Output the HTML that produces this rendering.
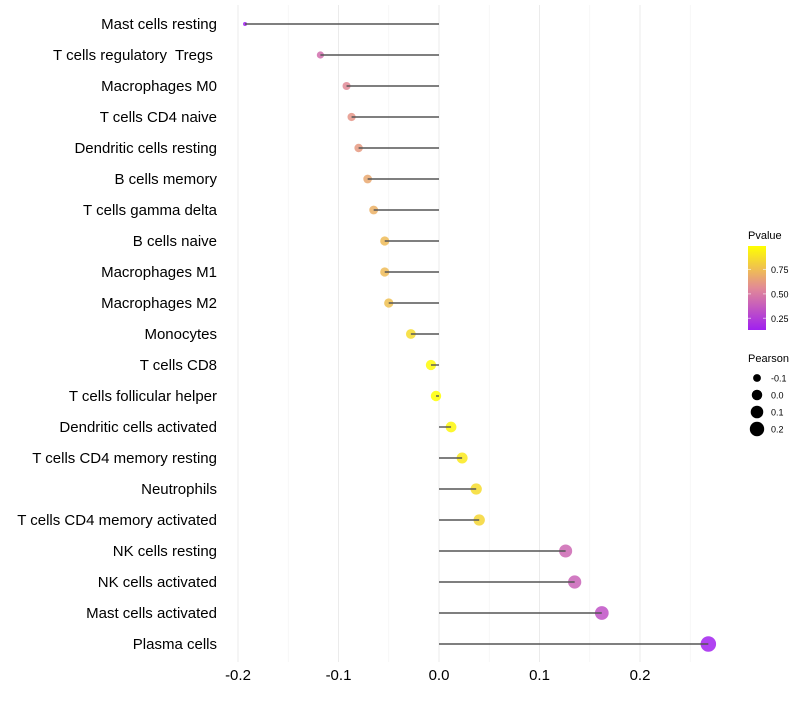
<!DOCTYPE html>
<html><head><meta charset="utf-8"><style>
body{margin:0;background:#fff;font-family:"Liberation Sans",sans-serif}
text{white-space:pre}
</style></head><body>
<svg id="c" width="800" height="700" xmlns="http://www.w3.org/2000/svg"></svg>
<script>
const categories=["Mast cells resting","T cells regulatory  Tregs ","Macrophages M0","T cells CD4 naive","Dendritic cells resting","B cells memory","T cells gamma delta","B cells naive","Macrophages M1","Macrophages M2","Monocytes","T cells CD8","T cells follicular helper","Dendritic cells activated","T cells CD4 memory resting","Neutrophils","T cells CD4 memory activated","NK cells resting","NK cells activated","Mast cells activated","Plasma cells"];
const pearson=[-0.193,-0.118,-0.092,-0.087,-0.080,-0.071,-0.065,-0.054,-0.054,-0.050,-0.028,-0.008,-0.003,0.012,0.023,0.037,0.040,0.126,0.135,0.162,0.268];
const pvalue=[0.13,0.45,0.56,0.60,0.62,0.67,0.70,0.74,0.74,0.76,0.86,0.97,0.99,0.96,0.91,0.86,0.84,0.42,0.40,0.33,0.14];
const xTicks=[-0.2,-0.1,0.0,0.1,0.2];
const xTickLabels=["-0.2","-0.1","0.0","0.1","0.2"];
const pTicks=[0.25,0.5,0.75];
const pTickLabels=["0.25","0.50","0.75"];
const sTicks=[-0.1,0.0,0.1,0.2];
const sTickLabels=["-0.1","0.0","0.1","0.2"];

const svg=document.getElementById('c');
const NS="http://www.w3.org/2000/svg";
function mk(t,a,p){const e=document.createElementNS(NS,t);for(const k in a)e.setAttribute(k,a[k]);(p||svg).appendChild(e);return e;}
const x=v=>439+(v-0)*1005;
const y=i=>24+i*31;
const pMin=Math.min(...pvalue),pMax=Math.max(...pvalue);
const sMin=Math.min(...pearson),sMax=Math.max(...pearson);
function rad(v){return Math.sqrt(4+56*(v-sMin)/(sMax-sMin));}
const stops=[[160,32,240],[226,138,150],[255,255,0]];
function col(p){let t=(p-pMin)/(pMax-pMin);t=Math.max(0,Math.min(1,t));let a,b,u;if(t<0.5){a=stops[0];b=stops[1];u=t*2}else{a=stops[1];b=stops[2];u=(t-0.5)*2}
return `rgb(${a.map((c,i)=>Math.round(c+(b[i]-c)*u)).join(',')})`;}

// grid
const gridG=mk('g',{});


for(let k=-4;k<=5;k++){const v=k*0.05;mk('line',{x1:x(v),x2:x(v),y1:5,y2:662,stroke:k%2===0?'#ebebeb':'#f3f3f3','stroke-width':k%2===0?1:0.8},gridG);}
// x ticks
xTicks.forEach((v,i)=>{const t=mk('text',{x:x(v),y:680,'font-size':15,'text-anchor':'middle',fill:'#000'});t.textContent=xTickLabels[i];

});
// rows
categories.forEach((c,i)=>{
const lab=mk('text',{x:217,y:y(i)+5,'font-size':15,'text-anchor':'end',fill:'#000'});lab.textContent=c;


const pt=mk('circle',{cx:x(pearson[i]),cy:y(i),r:rad(pearson[i]),fill:col(pvalue[i]),'fill-opacity':0.85});


const ln=mk('line',{x1:x(0),x2:x(pearson[i]),y1:y(i),y2:y(i),stroke:'#555','stroke-width':1.4});


});
// color legend
const lg=mk('g',{});


const tt=mk('text',{x:748,y:239,'font-size':11},lg);tt.textContent='Pvalue';
const defs=mk('defs',{});const gr=mk('linearGradient',{id:'g1',x1:0,y1:1,x2:0,y2:0},defs);
for(let k=0;k<=10;k++){mk('stop',{offset:k/10,'stop-color':col(pMin+(pMax-pMin)*k/10)},gr);}
mk('rect',{x:748,y:246,width:18,height:84,fill:'url(#g1)'},lg);
const py=p=>330-(p-pMin)/(pMax-pMin)*84;
pTicks.forEach((p,i)=>{mk('line',{x1:748,x2:751,y1:py(p),y2:py(p),stroke:'#fff','stroke-opacity':0.6},lg);mk('line',{x1:763,x2:766,y1:py(p),y2:py(p),stroke:'#fff','stroke-opacity':0.6},lg);
const t=mk('text',{x:771,y:py(p)+3.5,'font-size':9},lg);t.textContent=pTickLabels[i];});
// size legend
const sg=mk('g',{});


const st=mk('text',{x:748,y:362,'font-size':11},sg);st.textContent='Pearson';
sTicks.forEach((v,i)=>{const cy=378+i*17;mk('circle',{cx:757,cy:cy,r:rad(v),fill:'#000'},sg);
const t=mk('text',{x:771,y:cy+3.5,'font-size':9},sg);t.textContent=sTickLabels[i];});
</script>
</body></html>
